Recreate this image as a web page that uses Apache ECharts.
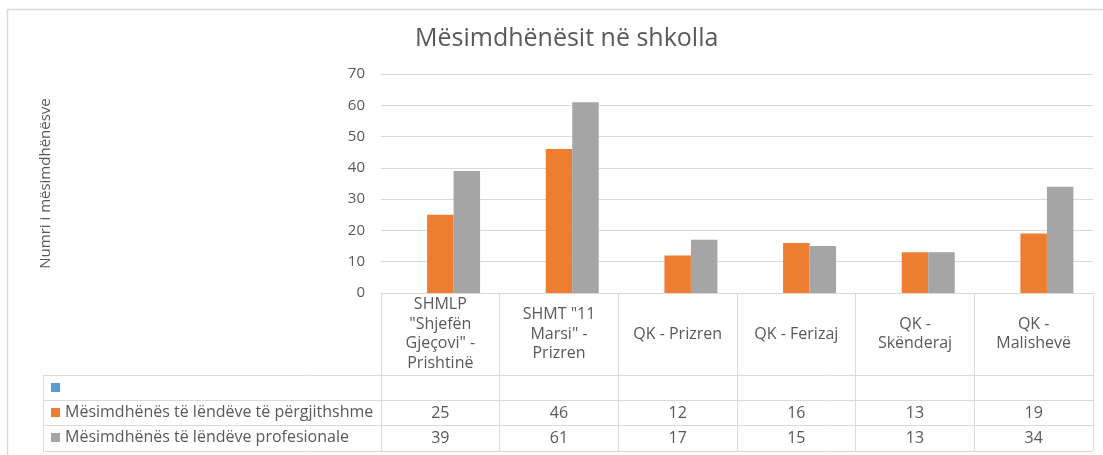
<!DOCTYPE html>
<html>
<head>
<meta charset="utf-8">
<script src="https://cdn.jsdelivr.net/npm/echarts@6/dist/echarts.min.js"></script>
<style>
  html, body { margin: 0; padding: 0; background: #fff; }
  #chart { width: 1103px; height: 455px; }
</style>
</head>
<body>
<div id="chart"></div>
<script>
const categories = [
  'SHMLP\n"Shjefën\nGjeçovi" -\nPrishtinë',
  'SHMT "11\nMarsi" -\nPrizren',
  'QK - Prizren',
  'QK - Ferizaj',
  'QK -\nSkënderaj',
  'QK -\nMalishevë'
]
const blankSeries = [null, null, null, null, null, null]
const generalTeachers = [25, 46, 12, 16, 13, 19]
const professionalTeachers = [39, 61, 17, 15, 13, 34]
const seriesNames = [' ', 'Mësimdhënës të lëndëve të përgjithshme', 'Mësimdhënës të lëndëve profesionale']

const FONT = 'Open Sans'
const TEXT = '#595959'
const LINE = '#d9d9d9'

const chart = echarts.init(document.getElementById('chart'))

const option = {
  animation: false,
  textStyle: { fontFamily: FONT },
  title: {
    text: 'Mësimdhënësit në shkolla',
    left: 410,
    top: 21,
    textStyle: { fontSize: 25, fontWeight: 'normal', color: TEXT, fontFamily: FONT },
  },
  legend: {
    orient: 'vertical',
    left: 51,
    top: 375,
    padding: 0,
    itemWidth: 9,
    itemHeight: 9,
    itemGap: 0,
    itemStyle: { borderWidth: 0 },
    selectedMode: false,
    icon: 'rect',
    textStyle: { fontSize: 16, color: TEXT, lineHeight: 25, fontFamily: FONT },
    data: seriesNames,
  },
  grid: { left: 381, right: 10, top: 74, bottom: 162 },
  xAxis: {
    type: 'category',
    data: categories,
    axisLine: { show: true, lineStyle: { color: LINE } },
    axisTick: { show: true, length: 158, lineStyle: { color: LINE } },
    axisLabel: {
      interval: 0,
      margin: 41,
      verticalAlign: 'middle',
      fontSize: 16,
      lineHeight: 19.5,
      color: TEXT,
      fontFamily: FONT,
    },
  },
  yAxis: {
    type: 'value',
    min: 0,
    max: 70,
    interval: 10,
    name: 'Numri i mësimdhënësve',
    nameLocation: 'middle',
    nameRotate: 90,
    nameGap: 328,
    nameTextStyle: { fontSize: 15, color: TEXT, fontFamily: FONT },
    axisLine: { show: false },
    axisTick: { show: false },
    axisLabel: { fontSize: 15, color: TEXT, margin: 16, fontFamily: FONT },
    splitLine: { lineStyle: { color: LINE } },
  },
  series: [
    { name: seriesNames[0], type: 'bar', data: blankSeries, itemStyle: { color: '#5b9bd5' }, barGap: '0%', barCategoryGap: '33%' },
    { name: seriesNames[1], type: 'bar', data: generalTeachers, itemStyle: { color: '#ed7d31' }, barGap: '0%', barCategoryGap: '33%' },
    { name: seriesNames[2], type: 'bar', data: professionalTeachers, itemStyle: { color: '#a5a5a5' }, barGap: '0%', barCategoryGap: '33%' },
  ],
}

chart.setOption(option)

// data table under the axis, placed from the category scale
function drawTable() {
  const rowLines = [375, 400, 425, 451]
  const tableLeft = 43
  const step = chart.convertToPixel({ xAxisIndex: 0 }, 1) - chart.convertToPixel({ xAxisIndex: 0 }, 0)
  const tableRight = chart.convertToPixel({ xAxisIndex: 0 }, categories.length - 1) + step / 2
  const elements = []

  // outer chart border
  elements.push({
    type: 'rect', silent: true,
    shape: { x: 7.5, y: 9.5, width: 1110, height: 460 },
    style: { fill: 'none', stroke: LINE, lineWidth: 1.5 },
  })

  rowLines.forEach((y) => {
    elements.push({
      type: 'line', silent: true,
      shape: { x1: tableLeft, y1: y + 0.5, x2: tableRight, y2: y + 0.5 },
      style: { stroke: LINE, lineWidth: 1 },
    })
  })
  elements.push({
    type: 'line', silent: true,
    shape: { x1: tableLeft + 0.5, y1: rowLines[0], x2: tableLeft + 0.5, y2: rowLines[3] },
    style: { stroke: LINE, lineWidth: 1 },
  })

  const rows = [generalTeachers, professionalTeachers]
  rows.forEach((vals, r) => {
    const yc = (rowLines[r + 1] + rowLines[r + 2]) / 2 + 0.5
    vals.forEach((v, i) => {
      const x = chart.convertToPixel({ xAxisIndex: 0 }, i)
      elements.push({
        type: 'text', silent: true,
        x: x, y: yc,
        style: {
          text: String(v), fill: TEXT, fontSize: 16, fontFamily: FONT,
          align: 'center', verticalAlign: 'middle',
        },
      })
    })
  })

  chart.setOption({ graphic: { elements } })
}

drawTable()
</script>
</body>
</html>
